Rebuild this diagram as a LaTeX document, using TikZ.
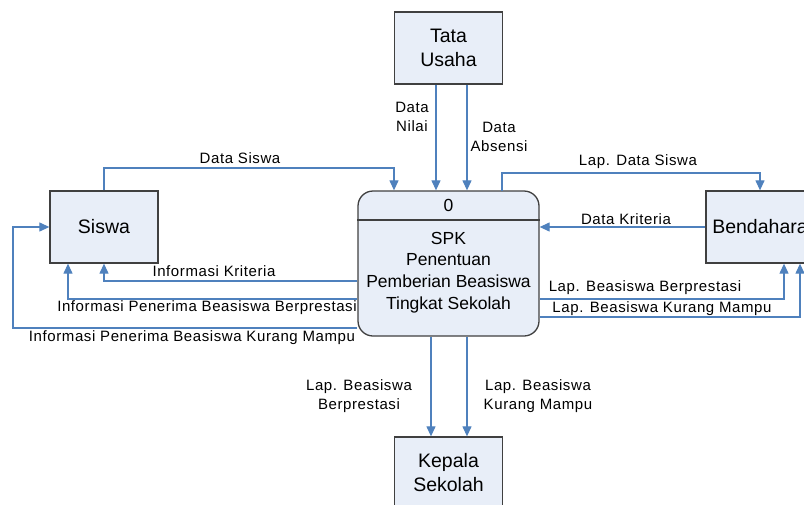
\documentclass[tikz,border=0pt]{standalone}
\usepackage{fontspec}
\setmainfont{Liberation Sans}
\newfontfamily\lblfont[LetterSpace=4]{Liberation Sans}
\usetikzlibrary{arrows.meta}
\definecolor{flowc}{RGB}{79,129,189}
\definecolor{boxfill}{RGB}{232,238,248}
\definecolor{boxline}{RGB}{64,64,64}
\begin{document}
\begin{tikzpicture}[x=1pt,y=-1pt,
  entity/.style={draw=boxline, fill=boxfill, line width=1.3pt, minimum width=108pt, minimum height=72pt, inner sep=0pt, align=center, font=\fontsize{19.5}{24}\selectfont},
  proc/.style={draw=boxline, fill=boxfill, line width=1.3pt, rounded corners=15pt, minimum width=181pt, minimum height=145pt, inner sep=0pt},
  ptext/.style={align=center, inner sep=0pt, font=\fontsize{17.5}{21.7}\selectfont},
  flow/.style={draw=flowc, line width=1.2pt, -{Triangle[length=10pt,width=9pt]}},
  lbl/.style={font=\lblfont\fontsize{15}{19}\selectfont, align=center, inner sep=0pt}]
\useasboundingbox (0,0) rectangle (804,504);
% entities
\node[entity] (tu) at (448.5,48) {Tata\\Usaha};
\node[entity] (s) at (104,227) {Siswa};
\node[entity] (b) at (760,227) {Bendahara};
\node[entity] (k) at (448.5,473) {Kepala\\Sekolah};
% process
\node[proc] (p) at (448.5,263.5) {};
\coordinate (dv) at (0,220);
\draw[draw=boxline, line width=1.3pt] (p.west |- dv) -- (p.east |- dv);
\node[ptext] (p0) at (448.5,205) {0};
\node[ptext] (pt) at (448.5,272.5) {SPK\\Penentuan\\Pemberian Beasiswa\\Tingkat Sekolah};
% helper coordinates
\coordinate (ds) at (394,168);
\coordinate (lds) at (760,173);
\coordinate (y281) at (0,281);
\coordinate (y299) at (0,299);
\coordinate (y317) at (0,317);
\coordinate (y328) at (0,328);
\coordinate (kl) at (13,0);
\coordinate (ib) at (68,0);
\coordinate (x502) at (502,191);
% Tata Usaha flows
\draw[flow] ([xshift=-12.5pt]tu.south) -- ([xshift=-12.5pt]tu.south |- p.north);
\draw[flow] ([xshift=18.5pt]tu.south) -- ([xshift=18.5pt]tu.south |- p.north);
% Siswa flows
\draw[flow] (s.north) |- (ds) -- (ds |- p.north);
\draw[flow] (p.west |- y281) -| (s.south);
\draw[flow] (p.west |- y299) -| (ib |- s.south);
\draw[flow] (p.west |- y328) -| (kl |- s.west) -- (s.west);
% Bendahara flows
\draw[flow] (x502) |- (lds) -- (b.north);
\draw[flow] (b.west) -- (p.east |- b.west);
\draw[flow] (p.east |- y299) -| ([xshift=24pt]b.south);
\draw[flow] (p.east |- y317) -| ([xshift=40pt]b.south);
% Kepala Sekolah flows
\draw[flow] ([xshift=-17.5pt]p.south) -- ([xshift=-17.5pt]p.south |- k.north);
\draw[flow] ([xshift=18.5pt]p.south) -- ([xshift=18.5pt]p.south |- k.north);
% labels
\node[lbl] (l1) at (412,117) {Data\\Nilai};
\node[lbl] (l2) at (499,137) {Data\\Absensi};
\node[lbl] (l3) at (240,158) {Data Siswa};
\node[lbl] (l4) at (638,162) {Lap. Data Siswa};
\node[lbl] (l5) at (626,219) {Data Kriteria};
\node[lbl] (l6) at (214,271) {Informasi Kriteria};
\node[lbl] (l7) at (207,308) {Informasi Penerima Beasiswa Berprestasi};
\node[lbl] (l8) at (192,338) {Informasi Penerima Beasiswa Kurang Mampu};
\node[lbl] (l9) at (645,288) {Lap. Beasiswa Berprestasi};
\node[lbl] (l10) at (662,309) {Lap. Beasiswa Kurang Mampu};
\node[lbl] (l11) at (359,396) {Lap. Beasiswa\\Berprestasi};
\node[lbl] (l12) at (538,396) {Lap. Beasiswa\\Kurang Mampu};
\end{tikzpicture}
\end{document}
